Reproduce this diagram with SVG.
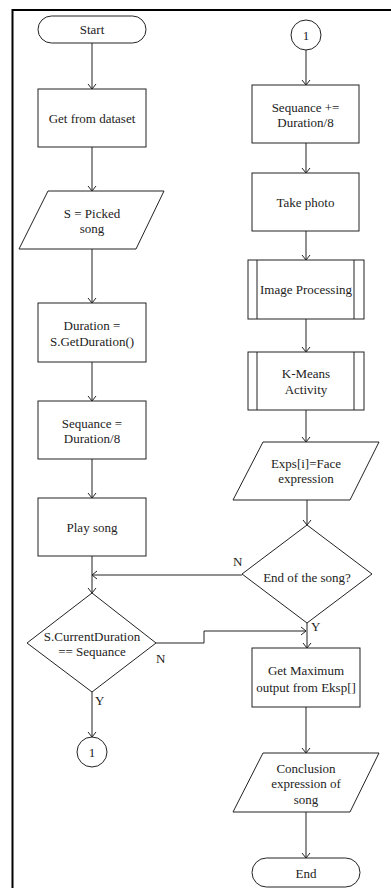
<svg xmlns="http://www.w3.org/2000/svg" width="391" height="888" viewBox="0 0 391 888">
<style>
.s{fill:#fff;stroke:#222;stroke-width:1}
.t{font-family:"Liberation Serif","Times New Roman",serif;font-size:13px;fill:#222;text-anchor:middle}
.l{font-family:"Liberation Serif","Times New Roman",serif;font-size:13px;fill:#222}
.c{fill:none;stroke:#222;stroke-width:1}
</style>
<defs>
<marker id="a" viewBox="-6 -5 7 10" refX="0" refY="0" markerWidth="7" markerHeight="10" orient="auto" markerUnits="userSpaceOnUse">
<path d="M-5,-4 L0,0 L-5,4" fill="none" stroke="#222" stroke-width="1"/>
</marker>
</defs>
<rect width="391" height="888" fill="#fff"/>
<path d="M12.5,888 V10 H391" fill="none" stroke="#000" stroke-width="2"/>
<g id="connectors">
<path class="c" d="M92,43 V89" marker-end="url(#a)"/>
<path class="c" d="M92,147 V191" marker-end="url(#a)"/>
<path class="c" d="M92,249 V303" marker-end="url(#a)"/>
<path class="c" d="M92,362 V401" marker-end="url(#a)"/>
<path class="c" d="M92,459 V498" marker-end="url(#a)"/>
<path class="c" d="M92,556 V593" marker-end="url(#a)"/>
<path class="c" d="M242,575 H92" marker-end="url(#a)"/>
<path class="c" d="M156,643 H204 V631 H306" marker-end="url(#a)"/>
<path class="c" d="M92,692 V737" marker-end="url(#a)"/>
<path class="c" d="M306,50 V85" marker-end="url(#a)"/>
<path class="c" d="M306,143 V173" marker-end="url(#a)"/>
<path class="c" d="M306,231 V260" marker-end="url(#a)"/>
<path class="c" d="M306,319 V352" marker-end="url(#a)"/>
<path class="c" d="M306,410 V442" marker-end="url(#a)"/>
<path class="c" d="M307,500 V525" marker-end="url(#a)"/>
<path class="c" d="M307,623 V648" marker-end="url(#a)"/>
<path class="c" d="M306,707 V753" marker-end="url(#a)"/>
<path class="c" d="M306,812 V858" marker-end="url(#a)"/>
<text class="l" x="233" y="566">N</text>
<text class="l" x="156" y="663">N</text>
<text class="l" x="95" y="705">Y</text>
<text class="l" x="311" y="631">Y</text>
</g>
<g id="start"><rect class="s" x="38" y="16" width="108" height="27" rx="13.5"/><text class="t" x="92" y="34">Start</text></g>
<g id="get-dataset"><rect class="s" x="38" y="89" width="108" height="58"/><text class="t" x="92" y="122.5">Get from dataset</text></g>
<g id="picked-song"><polygon class="s" points="48,191 164,191 136,249 19,249"/><text class="t" x="92" y="217.5">S = Picked</text><text class="t" x="92" y="232.5">song</text></g>
<g id="duration"><rect class="s" x="38" y="303" width="108" height="59"/><text class="t" x="92" y="329.5">Duration =</text><text class="t" x="92" y="345.5">S.GetDuration()</text></g>
<g id="sequance"><rect class="s" x="38" y="401" width="108" height="58"/><text class="t" x="92" y="427.5">Sequance =</text><text class="t" x="92" y="442.5">Duration/8</text></g>
<g id="play-song"><rect class="s" x="38" y="498" width="108" height="58"/><text class="t" x="92" y="531.5">Play song</text></g>
<g id="current-duration"><polygon class="s" points="92,593 156,643 92,692 27,643"/><text class="t" x="92" y="640.5">S.CurrentDuration</text><text class="t" x="92" y="655.5">== Sequance</text></g>
<g id="conn-out"><circle class="s" cx="92" cy="752" r="15"/><text class="t" x="92" y="756.5">1</text></g>
<g id="conn-in"><circle class="s" cx="306" cy="35" r="15"/><text class="t" x="306" y="39.5">1</text></g>
<g id="sequance-add"><rect class="s" x="252" y="85" width="107" height="58"/><text class="t" x="305.5" y="111.5">Sequance +=</text><text class="t" x="305.5" y="126.5">Duration/8</text></g>
<g id="take-photo"><rect class="s" x="252" y="173" width="107" height="58"/><text class="t" x="305.5" y="206.5">Take photo</text></g>
<g id="image-processing"><rect class="s" x="248" y="260" width="116" height="59"/><path class="c" d="M257,260 V319 M354,260 V319"/><text class="t" x="306" y="294">Image Processing</text></g>
<g id="kmeans"><rect class="s" x="248" y="352" width="116" height="58"/><path class="c" d="M257,352 V410 M354,352 V410"/><text class="t" x="306" y="377.5">K-Means</text><text class="t" x="306" y="393.5">Activity</text></g>
<g id="exps"><polygon class="s" points="263,442 379,442 350,500 233,500"/><text class="t" x="306" y="467.5">Exps[i]=Face</text><text class="t" x="306" y="482.5">expression</text></g>
<g id="end-of-song"><polygon class="s" points="307,525 372,574 307,623 242,574"/><text class="t" x="307" y="581.5">End of the song?</text></g>
<g id="get-max"><rect class="s" x="252" y="648" width="108" height="59"/><text class="t" x="306" y="674.5">Get Maximum</text><text class="t" x="306" y="691.5">output from Eksp[]</text></g>
<g id="conclusion"><polygon class="s" points="263,753 379,753 350,812 233,812"/><text class="t" x="306" y="772.5">Conclusion</text><text class="t" x="306" y="788">expression of</text><text class="t" x="306" y="804">song</text></g>
<g id="end"><rect class="s" x="252" y="858" width="108" height="29" rx="14.5"/><text class="t" x="306" y="877.5">End</text></g>
</svg>
